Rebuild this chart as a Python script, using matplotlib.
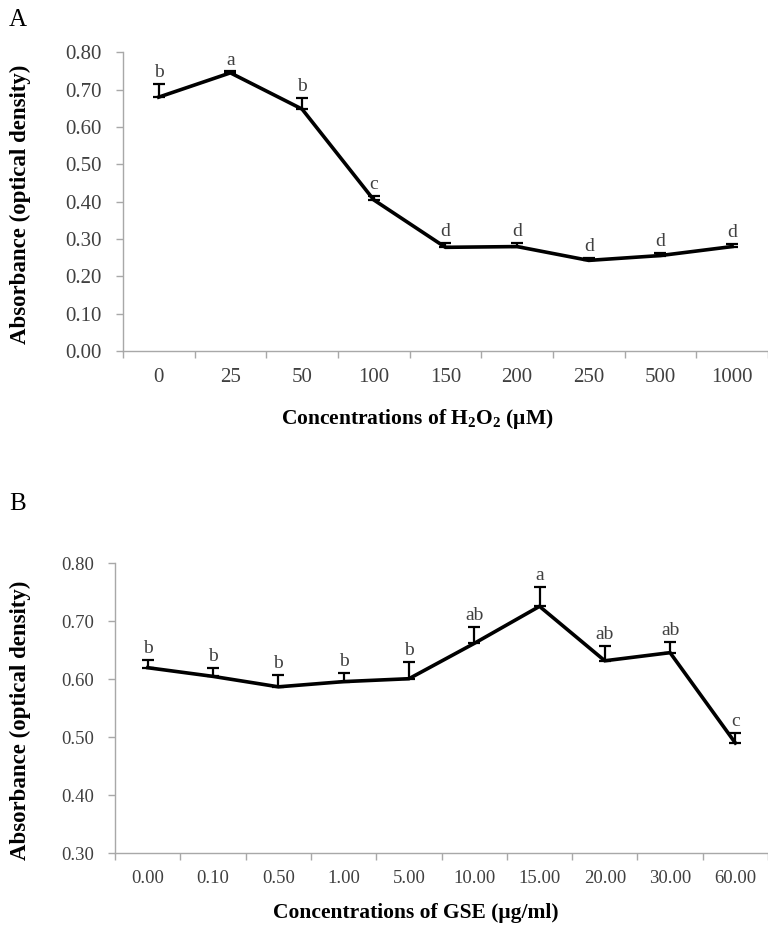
import numpy as np
import matplotlib.pyplot as plt

plt.rcParams['font.family'] = ['Liberation Serif', 'DejaVu Serif']
plt.rcParams['mathtext.fontset'] = 'custom'
plt.rcParams['mathtext.rm'] = 'Liberation Serif:bold'
plt.rcParams['mathtext.bf'] = 'Liberation Serif:bold'
plt.rcParams['mathtext.default'] = 'bf'

# Panel A data
h2o2_labels = ['0', '25', '50', '100', '150', '200', '250', '500', '1000']
h2o2_mean = [0.680, 0.745, 0.648, 0.405, 0.278, 0.280, 0.243, 0.256, 0.280]
h2o2_err = [0.035, 0.004, 0.030, 0.010, 0.012, 0.010, 0.006, 0.008, 0.008]
h2o2_letters = ['b', 'a', 'b', 'c', 'd', 'd', 'd', 'd', 'd']

# Panel B data
gse_labels = ['0.00', '0.10', '0.50', '1.00', '5.00', '10.00', '15.00', '20.00', '30.00', '60.00']
gse_mean = [0.620, 0.605, 0.587, 0.596, 0.601, 0.662, 0.726, 0.632, 0.646, 0.490]
gse_err = [0.013, 0.015, 0.021, 0.015, 0.029, 0.029, 0.033, 0.026, 0.019, 0.018]
gse_letters = ['b', 'b', 'b', 'b', 'b', 'ab', 'a', 'ab', 'ab', 'c']

AXIS_GREY = '#a8a8a8'
TEXT_GREY = '#404040'

fig = plt.figure(figsize=(7.68, 9.34), dpi=100)


def panel(rect, labels, mean, err, letters, ylim, yticks, xlabel, tick_fs,
          ylab_xy, xlab_xy):
    ax = fig.add_axes(rect)
    x = np.arange(len(labels))
    ax.errorbar(x, mean, yerr=[np.zeros(len(err)), err], fmt='none',
                ecolor='black', elinewidth=1.6, capsize=4.5, capthick=1.6, zorder=2)
    ax.plot(x, mean, color='black', lw=2.6, solid_joinstyle='miter', zorder=3)
    for xi, m, e, lt in zip(x, mean, err, letters):
        ax.annotate(lt, (xi, m + e), xytext=(0, 2), textcoords='offset points',
                    ha='center', va='bottom', fontsize=14, color=TEXT_GREY)
    ax.set_xlim(-0.5, len(labels) - 0.5)
    ax.set_ylim(*ylim)
    ax.set_yticks(yticks)
    ax.set_yticklabels([f'{v:.2f}' for v in yticks])
    ax.set_xticks(x)
    ax.set_xticklabels(labels)
    ax.set_xticks(np.arange(len(labels) + 1) - 0.5, minor=True)
    ax.tick_params(axis='x', which='major', length=0, pad=12, labelsize=tick_fs, labelcolor=TEXT_GREY)
    ax.tick_params(axis='x', which='minor', length=5, width=1, color=AXIS_GREY, direction='out')
    ax.tick_params(axis='y', length=5, width=1, color=AXIS_GREY, pad=10,
                   labelsize=tick_fs, labelcolor=TEXT_GREY)
    for s in ['top', 'right']:
        ax.spines[s].set_visible(False)
    for s in ['left', 'bottom']:
        ax.spines[s].set_color(AXIS_GREY)
        ax.spines[s].set_linewidth(1.0)
    ax.set_ylabel('Absorbance (optical density)', fontsize=16.5, fontweight='bold')
    ax.set_xlabel(xlabel, fontsize=15.5, fontweight='bold')
    ax.yaxis.set_label_coords(*ylab_xy)
    ax.xaxis.set_label_coords(*xlab_xy)
    ax.patch.set_alpha(0)
    return ax


panel([0.160, 0.624, 0.840, 0.320], h2o2_labels, h2o2_mean, h2o2_err, h2o2_letters,
      (0.0, 0.80), np.arange(0, 0.81, 0.1), r'Concentrations of H$_2$O$_2$ (μM)', 15,
      (-0.143, 0.49), (0.456, -0.187))
panel([0.150, 0.0867, 0.850, 0.310], gse_labels, gse_mean, gse_err, gse_letters,
      (0.30, 0.80), np.arange(0.3, 0.81, 0.1), 'Concentrations of GSE (μg/ml)', 13.5,
      (-0.129, 0.46), (0.461, -0.172))

fig.text(0.012, 0.990, 'A', fontsize=18, va='top', ha='left')
fig.text(0.012, 0.472, 'B', fontsize=18, va='top', ha='left')

fig.savefig('out.png', dpi=100, facecolor='white')
